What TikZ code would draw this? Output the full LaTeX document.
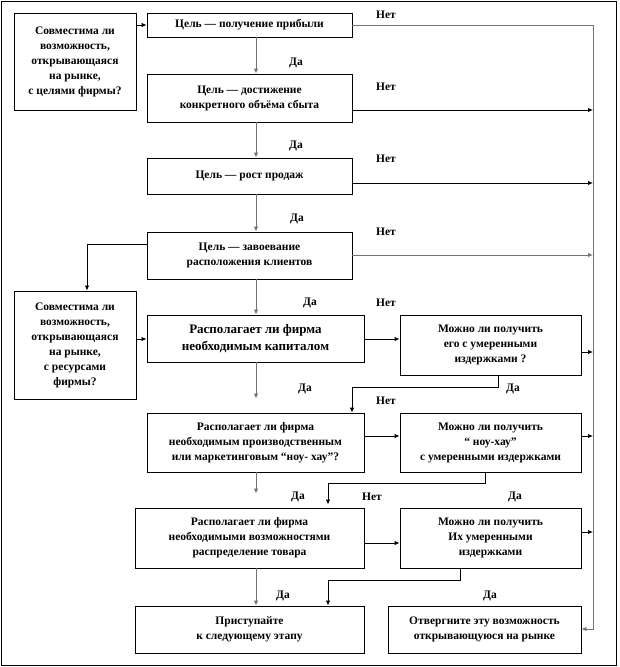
\documentclass[tikz,border=0pt]{standalone}
\usepackage{fontspec}
\setmainfont{Liberation Serif}[BoldFont={Liberation Serif Bold}]
\usetikzlibrary{arrows.meta}
\begin{document}
\begin{tikzpicture}[x=1pt,y=-1pt,
  box/.style={draw,line width=0.9pt,inner sep=0pt,align=center,font=\rmfamily\bfseries\fontsize{11.5}{15}\selectfont},
  arr/.style={line width=0.9pt,-{Latex[length=5pt,width=4.5pt]}},
  ln/.style={line width=0.9pt},
  gr/.style={draw=black!55},
  lbl/.style={font=\rmfamily\bfseries\fontsize{11.5}{13}\selectfont,inner sep=1pt}]
\useasboundingbox (0,0) rectangle (619,667);
\draw[line width=0.9pt] (1.5,1.5) rectangle (616,665);
% boxes
\node[box,minimum width=122pt,minimum height=97pt] (L1) at (75,61.5) {Совместима ли\\возможность,\\открывающаяся\\на рынке,\\с целями фирмы?};
\node[box,minimum width=205pt,minimum height=24pt] (B1) at (249.5,25) {Цель — получение прибыли};
\node[box,minimum width=205pt,minimum height=48pt] (B2) at (249.5,98) {Цель — достижение\\конкретного объёма сбыта};
\node[box,minimum width=205pt,minimum height=36pt] (B3) at (249.5,176) {Цель — рост продаж};
\node[box,minimum width=205pt,minimum height=47pt] (B4) at (249.5,255.5) {Цель — завоевание\\расположения клиентов};
\node[box,minimum width=122pt,minimum height=108pt] (L2) at (75,345) {Совместима ли\\возможность,\\открывающаяся\\на рынке,\\с ресурсами\\фирмы?};
\node[box,minimum width=217pt,minimum height=47pt,font=\rmfamily\bfseries\fontsize{13}{17}\selectfont] (B5) at (255.5,338.5) {Располагает ли фирма\\необходимым капиталом};
\node[box,minimum width=181pt,minimum height=60pt] (R1) at (490.5,345) {Можно ли получить\\его с умеренными\\издержками ?};
\node[box,minimum width=217pt,minimum height=59pt] (B6) at (255.5,442.5) {Располагает ли фирма\\необходимым производственным\\или маркетинговым “ноу- хау”?};
\node[box,minimum width=181pt,minimum height=59pt] (R2) at (490.5,442.5) {Можно ли получить\\“ ноу-хау”\\с умеренными издержками};
\node[box,minimum width=229pt,minimum height=60pt] (B7) at (249.5,538) {Располагает ли фирма\\необходимыми возможностями\\распределение товара};
\node[box,minimum width=181pt,minimum height=60pt] (R3) at (490.5,538) {Можно ли получить\\Их умеренными\\издержками};
\node[box,minimum width=229pt,minimum height=47pt] (B8) at (249.5,629.5) {Приступайте\\к следующему этапу};
\node[box,minimum width=193pt,minimum height=47pt] (R4) at (484.5,629.5) {Отвергните эту возможность\\открывающуюся на рынке};
% helper coordinates
\coordinate (vx) at (256,0);
\coordinate (rx) at (593,0);
\coordinate (lx) at (87,0);
\coordinate (k1) at (352,0);
\coordinate (k2) at (328,0);
\coordinate (c1) at (498,387);
\coordinate (c2) at (485,483);
\coordinate (c3) at (460,580);
% vertical main arrows
\draw[arr,gr] (B1.south -| vx) -- (B2.north -| vx);
\draw[arr,gr] (B2.south -| vx) -- (B3.north -| vx);
\draw[arr,gr] (B3.south -| vx) -- (B4.north -| vx);
\draw[arr,gr] (B4.south -| vx) -- (B5.north -| vx);
\draw[arr,gr,shorten >=14pt] (B5.south -| vx) -- (B6.north -| vx);
\draw[arr,gr,shorten >=14pt] (B6.south -| vx) -- (B7.north -| vx);
\draw[arr,gr] (B7.south -| vx) -- (B8.north -| vx);
% left side
\draw[arr] (L1.east |- B1.west) -- (B1.west);
\draw[arr] (B4.west |- 0,244) -| (L2.north -| lx);
\draw[arr] (L2.east |- 0,339) -- (B5.west |- 0,339);
% middle to right boxes
\draw[arr] (B5.east |- 0,339) -- (R1.west |- 0,339);
\draw[arr] (B6.east |- 0,436) -- (R2.west |- 0,436);
\draw[arr] (B7.east |- 0,543) -- (R3.west |- 0,543);
% return paths
\draw[arr] (R1.south -| c1) -- (c1) -| (B6.north -| k1);
\draw[arr,shorten >=3pt] (R2.south -| c2) -- (c2) -| (B7.north -| k2);
\draw[arr] (R3.south -| c3) -- (c3) -| (B8.north -| k2);
% right trunk
\draw[ln,gr] (B1.east) -- (B1.east -| rx);
\draw[arr,gr] (B1.east -| rx) |- (R4.east |- 0,629);
\draw[arr] (B2.east |- 0,110) -- (rx |- 0,110);
\draw[arr] (B3.east |- 0,183) -- (rx |- 0,183);
\draw[arr,gr] (B4.east |- 0,255) -- (rx |- 0,255);
\draw[arr] (R1.east |- 0,352) -- (rx |- 0,352);
\draw[arr] (R2.east |- 0,436) -- (rx |- 0,436);
\draw[arr] (R3.east |- 0,532) -- (rx |- 0,532);
% labels
\node[lbl] (n1) at (386,15) {Нет};
\node[lbl] (n2) at (386,87) {Нет};
\node[lbl] (n3) at (386,159) {Нет};
\node[lbl] (n4) at (386,232) {Нет};
\node[lbl] (n5) at (386,303) {Нет};
\node[lbl] (n6) at (386,401) {Нет};
\node[lbl] (n7) at (372,497) {Нет};
\node[lbl] (d1) at (296,63) {Да};
\node[lbl] (d2) at (296,146) {Да};
\node[lbl] (d3) at (297,219) {Да};
\node[lbl] (d4) at (310,303) {Да};
\node[lbl] (d5) at (305,389) {Да};
\node[lbl] (d6) at (513,389) {Да};
\node[lbl] (d7) at (298,497) {Да};
\node[lbl] (d8) at (515,497) {Да};
\node[lbl] (d9) at (283,596) {Да};
\node[lbl] (d10) at (490,596) {Да};
\end{tikzpicture}
\end{document}
